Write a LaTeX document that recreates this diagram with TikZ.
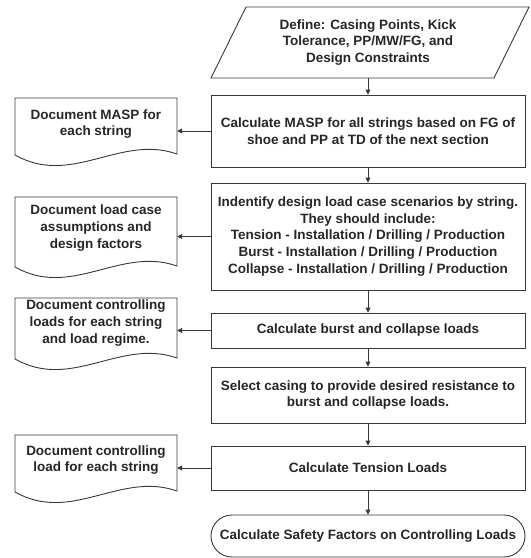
\documentclass[tikz,border=0pt]{standalone}
\usepackage{fontspec}
\setmainfont{Liberation Sans}
\usetikzlibrary{arrows.meta}
\newcommand\docshape[2]{%
  \draw[line] (15,#1) -- (177,#1) -- (177,#2-1)
    .. controls (120,#2-21) and (72,#2+32) .. (15,#2) -- cycle;}
\begin{document}
\begin{tikzpicture}[x=1pt,y=-1pt,
  line/.style={draw=black!78, line width=0.9pt},
  arr/.style={line, -{Triangle[length=5pt,width=5pt]}},
  txt/.style={align=center, inner sep=0pt, text=black!85,
    font=\fontsize{13.5}{16.8}\selectfont\bfseries},
  box/.style={txt, line, rectangle, minimum width=314pt},
  doctext/.style={txt, minimum width=162pt},
]
\useasboundingbox (0,0) rectangle (531,558);

% start parallelogram
\draw[line] (246,7) -- (529,7) -- (494,78) -- (211,78) -- cycle;
\node[txt, minimum height=71pt] (p) at (368,42.5)
  {Define: Casing Points, Kick\\Tolerance, PP/MW/FG, and\\Design Constraints};

% main column
\node[box, minimum height=72pt] (b1) at (368,131)
  {Calculate MASP for all strings based on FG of\\shoe and PP at TD of the next section};
\node[box, minimum height=107pt] (b2) at (368,236.5)
  {Indentify design load case scenarios by string.\\They should include:\\Tension - Installation / Drilling / Production\\Burst - Installation / Drilling / Production\\Collapse - Installation / Drilling / Production};
\node[box, minimum height=35pt] (b3) at (368,330.5)
  {Calculate burst and collapse loads};
\node[box, minimum height=56pt] (b4) at (368,395)
  {Select casing to provide desired resistance to\\burst and collapse loads.};
\node[box, minimum height=44pt] (b5) at (368,468)
  {Calculate Tension Loads};
\node[box, minimum height=42pt, rounded corners=21pt] (t) at (368,536)
  {Calculate Safety Factors on Controlling Loads};

% documents
\docshape{98}{155}
\node[doctext] (d1) at (96,124) {Document MASP for\\each string};
\docshape{197}{267}
\node[doctext] (d2) at (96,228) {Document load case\\assumptions and\\design factors};
\docshape{298}{359}
\node[doctext] (d3) at (96,323) {Document controlling\\loads for each string\\and load regime.};
\docshape{435}{492}
\node[doctext] (d4) at (96,460) {Document controlling\\load for each string};

% connectors
\draw[arr] (p.south) -- (b1.north);
\draw[arr] (b1) -- (b2);
\draw[arr] (b2) -- (b3);
\draw[arr] (b3) -- (b4);
\draw[arr] (b4) -- (b5);
\draw[arr] (b5) -- (t);
\draw[arr] (b1.west) -- (b1.west -| d1.east);
\draw[arr] (b2.west) -- (b2.west -| d2.east);
\draw[arr] (b3.west) -- (b3.west -| d3.east);
\draw[arr] (b5.west) -- (b5.west -| d4.east);
\end{tikzpicture}
\end{document}
